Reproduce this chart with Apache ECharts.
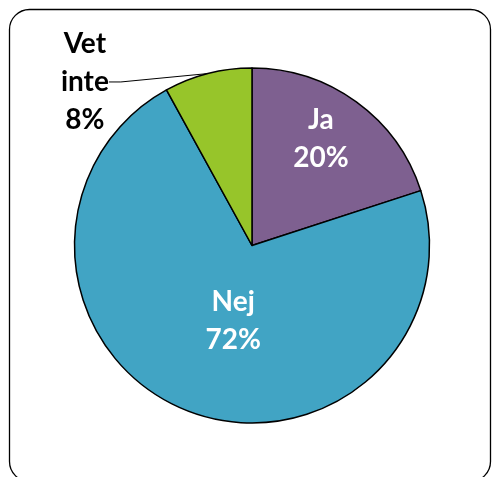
<!DOCTYPE html>
<html>
<head>
<meta charset="utf-8">
<script src="https://cdn.jsdelivr.net/npm/echarts@6/dist/echarts.min.js"></script>
<style>
  html, body { margin: 0; padding: 0; background: #fff; }
  #chart { width: 492px; height: 477px; }
</style>
</head>
<body>
<div id="chart"></div>
<script>
// svar och andelar (%)
const names = ['Ja', 'Nej', 'Vet inte'];
const values = [20, 72, 8];
const colors = ['#7E6090', '#41A4C4', '#97C52A'];

// flytta etiketterna ungefär som i originalet
const labelShift = [
  { dx: 15, dy: -32 },
  { dx: 15, dy: -10 },
  { dx: -103, dy: 20 }
];

const chart = echarts.init(document.getElementById('chart'));

const option = {
  animation: false,
  graphic: [{
    type: 'rect',
    shape: { x: 9.5, y: 9.5, width: 481, height: 472, r: 20 },
    style: { fill: 'none', stroke: '#000', lineWidth: 1.3 },
    silent: true
  }],
  series: [{
    type: 'pie',
    center: [252, 245.5],
    radius: 177.5,
    startAngle: 90,
    clockwise: true,
    avoidLabelOverlap: false,
    itemStyle: { borderColor: '#000', borderWidth: 1.5 },
    label: {
      fontFamily: 'Lato',
      fontWeight: 'bold',
      fontSize: 28,
      lineHeight: 38,
      align: 'center',
      formatter: p => p.name.replace(' ', '\n') + '\n' + p.value + '%'
    },
    labelLine: {
      lineStyle: { color: '#000', width: 1 },
      length: 12,
      length2: 12
    },
    labelLayout: p => {
      const s = labelShift[p.dataIndex];
      if (p.dataIndex < 2) return { align: 'center', dx: s.dx, dy: s.dy };
      // utanför: sätt x/y så att ledlinjen ritas om
      const r = p.labelRect;
      return {
        align: 'center',
        verticalAlign: 'middle',
        x: r.x + r.width + s.dx,
        y: r.y + r.height / 2 + s.dy
      };
    },
    data: names.map((n, i) => ({
      name: n,
      value: values[i],
      itemStyle: { color: colors[i] },
      label: i < 2
        ? { position: 'inside', color: '#fff' }
        : { position: 'outside', color: '#000' },
      labelLine: { show: i === 2 }
    }))
  }]
};

chart.setOption(option);
</script>
</body>
</html>
